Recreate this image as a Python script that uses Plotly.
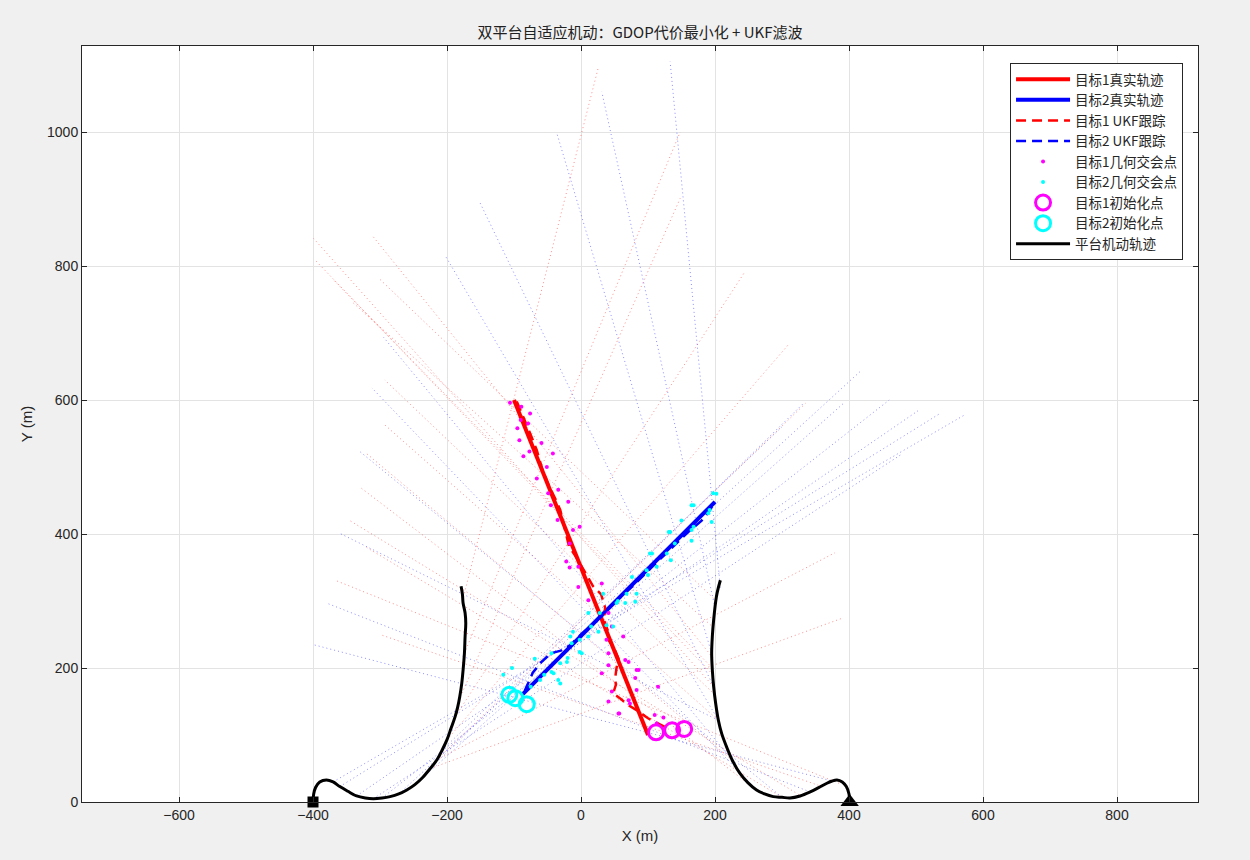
import plotly.graph_objects as go

# ---------------- data ----------------
t1_true_x = [100, -100]
t1_true_y = [100, 600]
t2_true_x = [-88, 200]
t2_true_y = [160, 448]

t1_ukf_x = [125, 100, 83, 70, 58, 48, 52, 51, 53, 56, 50, 41, 40, 34, 36, 30, 18, 5, -5, -18, -24,
            -31, -38, -48, -58, -66, -75, -85, -96]
t1_ukf_y = [112, 125, 137, 145, 155, 162, 175, 185, 200, 214, 228, 242, 256, 272, 290, 310, 322, 345,
            362, 382, 405, 436, 452, 472, 497, 525, 548, 572, 598]

t2_ukf_x = [-84, -80, -72, -60, -45, -30, -16, 0, 20, 40, 60, 80, 100, 120, 140, 160, 180, 190, 198]
t2_ukf_y = [166, 176, 193, 208, 222, 226, 234, 250, 268, 288, 306, 325, 345, 364, 383, 403, 420, 432, 445]

t1_pts_x = [-106, -89, -76, -90, -95, -79, -92, -59, -77, -86, -42, -51, -66, -34, -49, -45, -19, -35,
            -12, -2, -17, -22, -17, -4, -4, 31, 11, 41, 46, 38, 63, 41, 66, 83, 31, 46, 41, 57, 83,
            73, 115, 113, 110, 123, 86, 71, 81, 41, 56, 71]
t1_pts_y = [596, 590, 580, 570, 558, 565, 540, 536, 523, 516, 520, 500, 483, 466, 461, 443, 448, 421,
            406, 411, 386, 359, 350, 351, 321, 326, 301, 282, 262, 242, 247, 222, 212, 197, 192, 165,
            150, 132, 167, 147, 172, 117, 130, 126, 197, 209, 185, 204, 132, 152]

t2_pts_x = [197, 192, 168, 165, 133, 140, 128, 106, 98, 113, 76, 68, 83, 53, 33, 48, 28, 11, -2, 1,
            -16, -31, -44, -41, -31, -69, -61, -103, -116, 202, 165, 168, 190, 195, 165, 131, 134,
            103, 100, 81, 66, 38, 26, 11, -12, -14, -2, -34, -21, -44, -75, -55, -20, 15, 55, 150]
t2_pts_y = [461, 436, 443, 406, 403, 386, 371, 371, 346, 351, 336, 311, 311, 297, 311, 262, 282, 247,
            242, 222, 247, 207, 222, 192, 177, 214, 182, 200, 190, 460, 443, 411, 431, 418, 390, 403,
            361, 371, 339, 299, 297, 264, 254, 282, 254, 237, 224, 182, 209, 194, 172, 190, 215, 262,
            300, 420]

t1_init_x = [112, 136, 154]
t1_init_y = [104, 107, 109]
t2_init_x = [-107, -98, -81]
t2_init_y = [160, 155, 146]

p1_x = [-400, -399, -396, -390, -380, -370, -360, -348, -335, -322, -310, -297, -285, -272, -260, -248,
        -236, -225, -215, -207, -200, -194, -188, -184, -181, -178, -176, -174, -173, -172, -173, -176,
        -177, -179]
p1_y = [0, 12, 22, 30, 33, 30, 23, 16, 9, 6, 5, 6, 8, 12, 18, 26, 37, 50, 63, 78, 93, 110, 127, 142, 157,
        177, 197, 222, 247, 267, 282, 297, 310, 322]
p2_x = [401, 400, 396, 390, 382, 374, 367, 354, 342, 327, 312, 300, 287, 274, 262, 249, 237, 226, 217,
        210, 205, 201, 198, 196, 195, 196, 198, 202, 205, 208]
p2_y = [0, 12, 23, 30, 33, 31, 28, 21, 15, 9, 6, 7, 8, 12, 18, 29, 43, 62, 83, 102, 122, 147, 172, 197,
        222, 247, 272, 306, 320, 331]

# bearing rays (start on platform path -> far end)
r_ray_x0 = [385, 330, 262, 226, 205, 200, 198, 197, 196, 197, 198, 202, -215, -225, -200, -188, -180,
            -174, -177, -215, 360, 300]
r_ray_y0 = [28, 8, 18, 62, 122, 160, 172, 190, 200, 215, 260, 300, 63, 50, 93, 127, 157, 222, 300, 63,
            23, 7]
r_ray_x1 = [-367, -345, -330, -320, -293, -293, -399, -397, -370, -312, -340, -300, 379, 389, 309, 245,
            148, 148, 26, 335, -300, -320]
r_ray_y1 = [331, 420, 470, 520, 563, 630, 841, 809, 780, 846, 745, 780, 372, 274, 682, 792, 901, 1000,
            1097, 595, 250, 380]

b_ray_x0 = [372, 342, 205, 300, 262, 226, 205, 198, 195, 200, 208, -370, -360, -335, -297, -272, -248,
            -225, -207, -310]
b_ray_y0 = [32, 15, 122, 7, 18, 62, 122, 172, 222, 290, 320, 30, 23, 9, 6, 12, 26, 50, 78, 5]
b_ray_x1 = [-400, -380, -360, -330, -312, -295, -203, -152, -36, 31, 133, 573, 536, 503, 460, 416, 394,
            332, 300, 480]
b_ray_y1 = [235, 297, 401, 523, 618, 694, 816, 897, 998, 1060, 1105, 578, 580, 584, 600, 642, 597, 595,
            560, 520]

title_text = "双平台自适应机动：GDOP代价最小化 + UKF滤波"
x_ticks = [-600, -400, -200, 0, 200, 400, 600, 800]
y_ticks = [0, 200, 400, 600, 800, 1000]


def seg(x0, y0, x1, y1):
    xs, ys = [], []
    for a, b, c, d in zip(x0, y0, x1, y1):
        xs += [a, c, None]
        ys += [b, d, None]
    return xs, ys


fig = go.Figure()

rx, ry = seg(r_ray_x0, r_ray_y0, r_ray_x1, r_ray_y1)
bx, by = seg(b_ray_x0, b_ray_y0, b_ray_x1, b_ray_y1)
fig.add_trace(go.Scatter(x=rx, y=ry, mode="lines", showlegend=False, hoverinfo="skip",
                         line=dict(color="rgba(255,0,0,0.45)", width=1, dash="1px,3px")))
fig.add_trace(go.Scatter(x=bx, y=by, mode="lines", showlegend=False, hoverinfo="skip",
                         line=dict(color="rgba(0,0,255,0.45)", width=1, dash="1px,3px")))

fig.add_trace(go.Scatter(x=t1_true_x, y=t1_true_y, mode="lines", name="目标1真实轨迹",
                         line=dict(color="#ff0000", width=4)))
fig.add_trace(go.Scatter(x=t2_true_x, y=t2_true_y, mode="lines", name="目标2真实轨迹",
                         line=dict(color="#0000ff", width=4)))
fig.add_trace(go.Scatter(x=t1_ukf_x, y=t1_ukf_y, mode="lines", name="目标1 UKF跟踪",
                         line=dict(color="#ff0000", width=2.5, dash="10px,6px")))
fig.add_trace(go.Scatter(x=t2_ukf_x, y=t2_ukf_y, mode="lines", name="目标2 UKF跟踪",
                         line=dict(color="#0000ff", width=2.5, dash="10px,6px")))
fig.add_trace(go.Scatter(x=t1_pts_x, y=t1_pts_y, mode="markers", name="目标1几何交会点",
                         marker=dict(color="#ff00ff", size=4)))
fig.add_trace(go.Scatter(x=t2_pts_x, y=t2_pts_y, mode="markers", name="目标2几何交会点",
                         marker=dict(color="#00ffff", size=4)))
fig.add_trace(go.Scatter(x=t1_init_x, y=t1_init_y, mode="markers", name="目标1初始化点",
                         marker=dict(symbol="circle-open", color="#ff00ff", size=15,
                                     line=dict(width=3, color="#ff00ff"))))
fig.add_trace(go.Scatter(x=t2_init_x, y=t2_init_y, mode="markers", name="目标2初始化点",
                         marker=dict(symbol="circle-open", color="#00ffff", size=15,
                                     line=dict(width=3, color="#00ffff"))))
fig.add_trace(go.Scatter(x=p1_x + [None] + p2_x, y=p1_y + [None] + p2_y, mode="lines",
                         name="平台机动轨迹", line=dict(color="#000000", width=3, shape="spline",
                                                     smoothing=1.0)))
fig.add_trace(go.Scatter(x=[p1_x[0]], y=[p1_y[0]], mode="markers", showlegend=False, cliponaxis=False,
                         marker=dict(symbol="square", color="#000000", size=11)))
fig.add_trace(go.Scatter(x=[p2_x[0]], y=[p2_y[0]], mode="markers", showlegend=False, cliponaxis=False,
                         marker=dict(symbol="triangle-up", color="#000000", size=16)))

axis_common = dict(showgrid=True, gridcolor="#e3e3e3", gridwidth=1, zeroline=False, showline=True,
                   linecolor="#262626", linewidth=1, mirror="ticks", ticks="inside", ticklen=5,
                   tickcolor="#262626", tickfont=dict(family="Liberation Sans, Arial", size=14,
                                                      color="#262626"))

fig.update_layout(
    width=1250, height=860,
    margin=dict(l=82, r=52, t=46, b=58),
    paper_bgcolor="#f0f0f0", plot_bgcolor="#ffffff",
    title=dict(text=title_text, x=0.512, xanchor="center", yref="container", y=1 - 33 / 860,
               yanchor="middle", font=dict(family="Noto Sans CJK SC", size=15, color="#212121")),
    xaxis=dict(range=[-744.8, 920.9], tickvals=x_ticks,
               title=dict(text="X (m)", standoff=8, font=dict(family="Liberation Sans, Arial", size=15,
                                                              color="#262626")),
               **axis_common),
    yaxis=dict(range=[0, 1128.4], tickvals=y_ticks,
               title=dict(text="Y (m)", standoff=10, font=dict(family="Liberation Sans, Arial", size=15,
                                                               color="#262626")),
               **axis_common),
    legend=dict(x=0.9866, y=0.9775, xanchor="right", yanchor="top", bgcolor="#ffffff",
                bordercolor="#262626", borderwidth=1, itemwidth=54,
                font=dict(family="Noto Sans CJK SC", size=13.5, color="#262626")),
    showlegend=True,
)

fig.write_html("out.html")
